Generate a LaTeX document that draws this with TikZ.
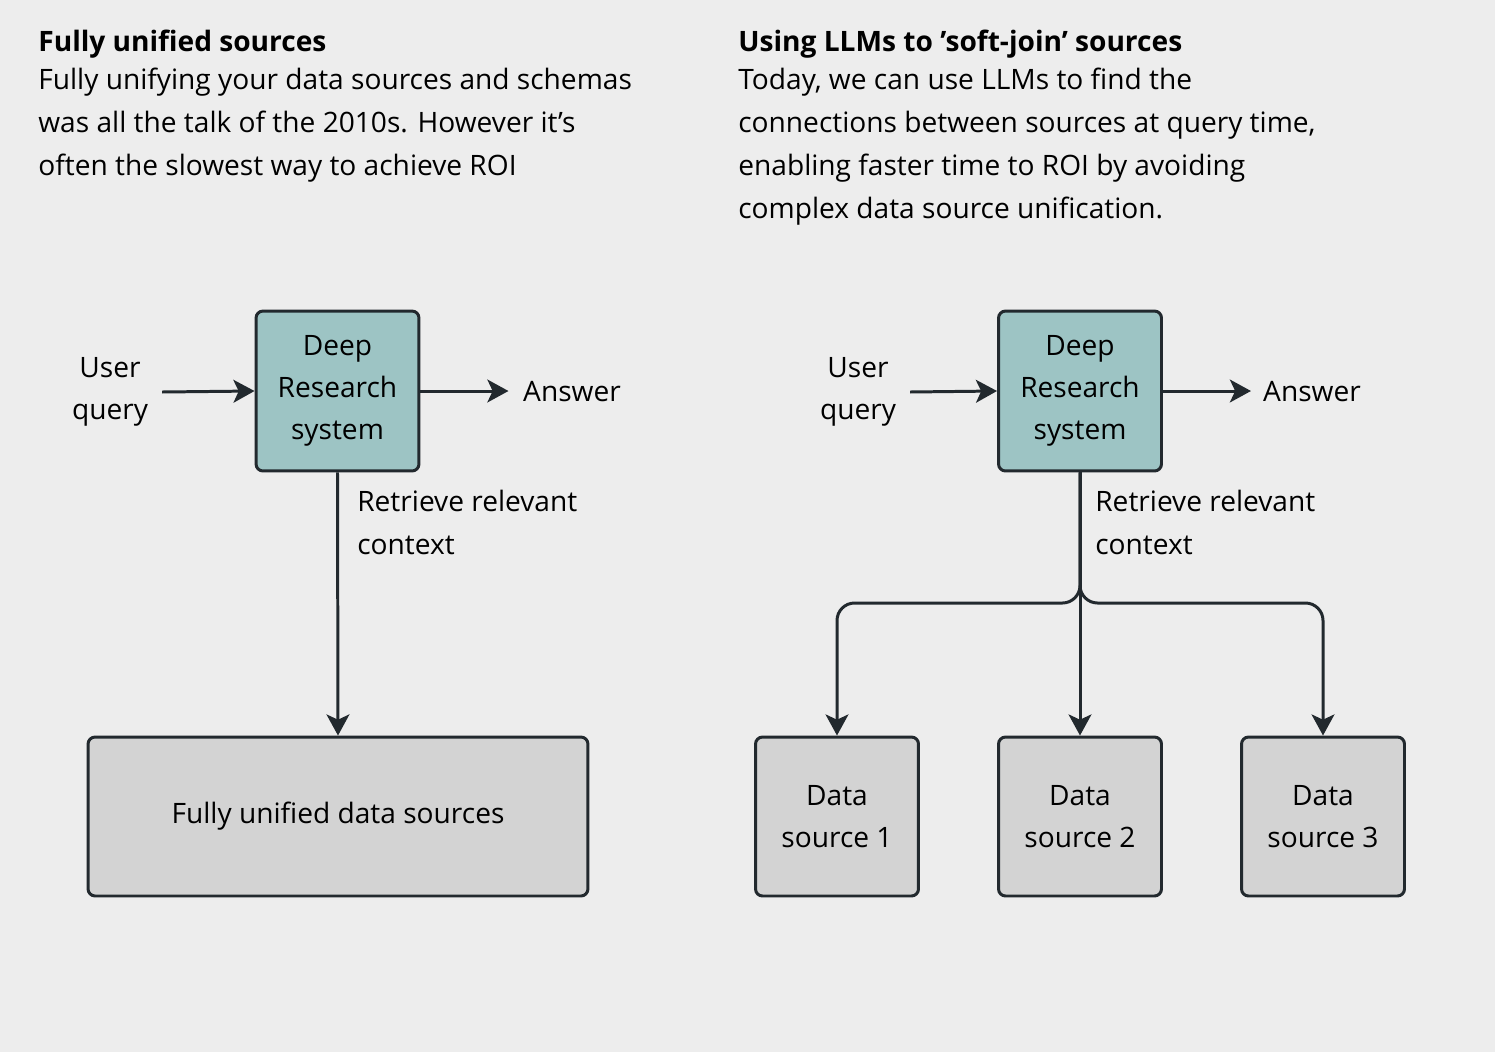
\documentclass[tikz,border=0pt]{standalone}
\usepackage{fontspec}
\setmainfont{Open Sans}
\usetikzlibrary{positioning, arrows.meta}
\definecolor{bgc}{HTML}{EDEDED}
\definecolor{tealc}{HTML}{9DC4C4}
\definecolor{grayc}{HTML}{D3D3D3}
\definecolor{inkc}{HTML}{22292E}
\tikzset{DR/.style={draw=inkc, fill=tealc, line width=1.7pt, rounded corners=4pt, minimum width=3.26cm, minimum height=3.2cm, align=center, font=\fontsize{16}{24}\selectfont}}
\tikzset{DS/.style={draw=inkc, fill=grayc, line width=1.7pt, rounded corners=4pt, minimum width=3.26cm, minimum height=3.18cm, align=center, font=\fontsize{16}{24}\selectfont}}
\tikzset{E/.style={draw=inkc, line width=1.7pt, -{Stealth[length=12pt, width=13pt, inset=3pt]}}}
\tikzset{T/.style={text=black, align=center, font=\fontsize{16}{24}\selectfont}}
\tikzset{H/.style={text=black, anchor=west, inner sep=0pt, font=\fontsize{16}{24}\selectfont\bfseries}}
\tikzset{P/.style={text=black, anchor=north west, inner sep=0pt, align=left, font=\fontsize{16}{24.4}\selectfont}}
\begin{document}
\begin{tikzpicture}[x=0.02cm, y=-0.02cm]
        \fill[bgc] (0,0) rectangle (1495,1052);
        %% Headings
        \node[H] (h1) at (38,44) {Fully unified sources};
        \node[P] (p1) at (38,68) {Fully unifying your data sources and schemas\\was all the talk of the 2010s. However it's\\often the slowest way to achieve ROI};
        \node[H] (h2) at (738,44) {Using LLMs to 'soft-join' sources};
        \node[P] (p2) at (738,68) {Today, we can use LLMs to find the\\connections between sources at query time,\\enabling faster time to ROI by avoiding\\complex data source unification.};
        %% Left diagram
        \node[DR] (drl) at (337.5,391) {Deep\\Research\\system};
        \node[T] (uql) at (110,392) {User\\query};
        \node[T] (anl) at (572,392) {Answer};
        \node[DS, minimum width=10.0cm] (fu) at (338,816.5) {Fully unified data sources};
        \draw[E] (uql.east) ++(8,0) coordinate (ul) -- (drl.west);
        \draw[E] (drl.east) -- ++(88,0) coordinate (al);
        \draw[E] (drl.south) -- (fu.north);
        \node[P, font=\fontsize{16}{24.4}\selectfont] (rl) at (357,490) {Retrieve relevant\\context};
        %% Right diagram
        \node[DR] (drr) at (1080,391) {Deep\\Research\\system};
        \node[T] (uqr) at (858,392) {User\\query};
        \node[T] (anr) at (1312,392) {Answer};
        \node[DS] (ds1) at (837,816.5) {Data\\source 1};
        \node[DS] (ds2) at (1080,816.5) {Data\\source 2};
        \node[DS] (ds3) at (1323,816.5) {Data\\source 3};
        \draw[E] (uqr.east) ++(8,0) coordinate (ur) -- (drr.west);
        \draw[E] (drr.east) -- ++(88,0) coordinate (ar);
        \draw[E] (drr.south) -- (ds2.north);
        \coordinate (split) at (1080,603);
        \draw[E, rounded corners=10pt] (drr.south) |- (ds1.north |- split) -- (ds1.north);
        \draw[E, rounded corners=10pt] (drr.south) |- (ds3.north |- split) -- (ds3.north);
        \node[P] (rr) at (1095,490) {Retrieve relevant\\context};
\end{tikzpicture}
\end{document}
